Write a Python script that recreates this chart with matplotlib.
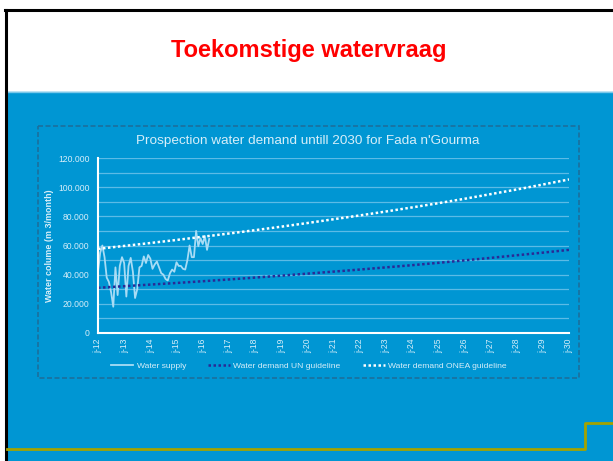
import matplotlib.pyplot as plt
from matplotlib.patches import Rectangle
from matplotlib.ticker import MultipleLocator, FuncFormatter

plt.rcParams['font.family'] = ['Liberation Sans', 'DejaVu Sans']

# monthly water supply, starting jan-2012 (m3/month)
supply = [42000, 55000, 60000, 52000, 38000, 35000, 28000, 18000, 45000, 26000,
          46000, 52000, 48000, 25000, 46000, 51500, 42000, 24000, 30000, 45000,
          46000, 52500, 48000, 53500, 51000, 44000, 47000, 49000, 45000, 41000,
          40000, 37000, 36000, 41000, 43500, 42000, 48500, 46000, 46000, 44000,
          43500, 50000, 60000, 52000, 52000, 70000, 59500, 65000, 61000, 66500,
          57000, 64500]

years = list(range(2012, 2031))
demand_un = [31000, 32100, 33200, 34300, 35500, 36700, 38000, 39300, 40700, 42100,
             43500, 45000, 46500, 48100, 49800, 51500, 53300, 55100, 57000]
demand_onea = [57700, 59700, 61700, 63800, 66000, 68200, 70500, 72900, 75400, 78000,
               80600, 83300, 86100, 89000, 92000, 95200, 98400, 101800, 105300]
tick_labels = ['j-%02d' % (y % 100) for y in years]

blue = '#0096d3'
light = '#d6eef9'

fig = plt.figure(figsize=(6.13, 4.61), dpi=100)

# slide background in pixel coordinates
bg = fig.add_axes([0, 0, 1, 1])
bg.set_xlim(0, 613)
bg.set_ylim(461, 0)
bg.axis('off')
bg.add_patch(Rectangle((6, 92), 610, 370, color=blue, zorder=1))
bg.plot([6, 613], [92.5, 92.5], color='#7cc8ea', lw=1, zorder=2)
bg.plot([6, 6], [10, 461], color='black', lw=2.2, zorder=3)
bg.plot([5, 613], [10, 10], color='black', lw=2.2, zorder=3)
bg.plot([7, 585, 585, 613], [449, 449, 423, 423], color='#a3a300', lw=2, zorder=3)
bg.add_patch(Rectangle((37.5, 126), 541, 252, fill=False, ec='#1c6f9c',
                       lw=1.2, ls=(0, (3, 1.5)), zorder=3))
bg.text(309, 51, 'Toekomstige watervraag', color='#ff0000', fontsize=17,
        fontweight='bold', ha='center', va='center')
bg.text(308, 141, "Prospection water demand untill 2030 for Fada n'Gourma",
        color=light, fontsize=9.7, ha='center', va='center')

ax = fig.add_axes([98 / 613, (461 - 333) / 461, 471 / 613, 175 / 461])
ax.set_facecolor('none')

x_supply = list(range(len(supply)))
x_years = [(y - 2012) * 12 for y in years]

ax.plot(x_supply, supply, color='#a8dcf5', lw=1.3, label='Water supply')
ax.plot(x_years, demand_un, color='#2a2a96', lw=1.8, ls=(0, (1, 1)),
        label='Water demand UN guideline')
ax.plot(x_years, demand_onea, color='white', lw=1.8, ls=(0, (1, 1)),
        label='Water demand ONEA guideline')

ax.set_xlim(0, 216)
ax.set_ylim(0, 120000)
ax.yaxis.set_major_locator(MultipleLocator(20000))
ax.yaxis.set_minor_locator(MultipleLocator(10000))
ax.yaxis.set_major_formatter(FuncFormatter(lambda v, p: '{:,.0f}'.format(v).replace(',', '.')))
ax.grid(axis='y', which='both', color='#5cbbe6', lw=0.9)
ax.set_axisbelow(True)

ax.set_xticks(x_years)
ax.set_xticklabels(tick_labels, rotation=90)
ax.tick_params(axis='both', length=0, colors=light, labelsize=6.2)
ax.tick_params(axis='y', which='minor', length=0)
ax.tick_params(axis='x', pad=4)
ax.tick_params(axis='y', pad=6)

for s in ['top', 'right']:
    ax.spines[s].set_visible(False)
for s in ['left', 'bottom']:
    ax.spines[s].set_color('white')
    ax.spines[s].set_linewidth(1.5)

ax.set_ylabel('Water colume (m 3/month)', color=light, fontsize=6.4,
              fontweight='bold', labelpad=3)

leg = fig.legend(loc='center', bbox_to_anchor=(309 / 613, 1 - 366 / 461), ncol=3,
                 frameon=False, fontsize=6.1, handlelength=2.6, columnspacing=2.6,
                 handletextpad=0.4)
for t in leg.get_texts():
    t.set_color(light)

fig.savefig('out.png', dpi=100)
